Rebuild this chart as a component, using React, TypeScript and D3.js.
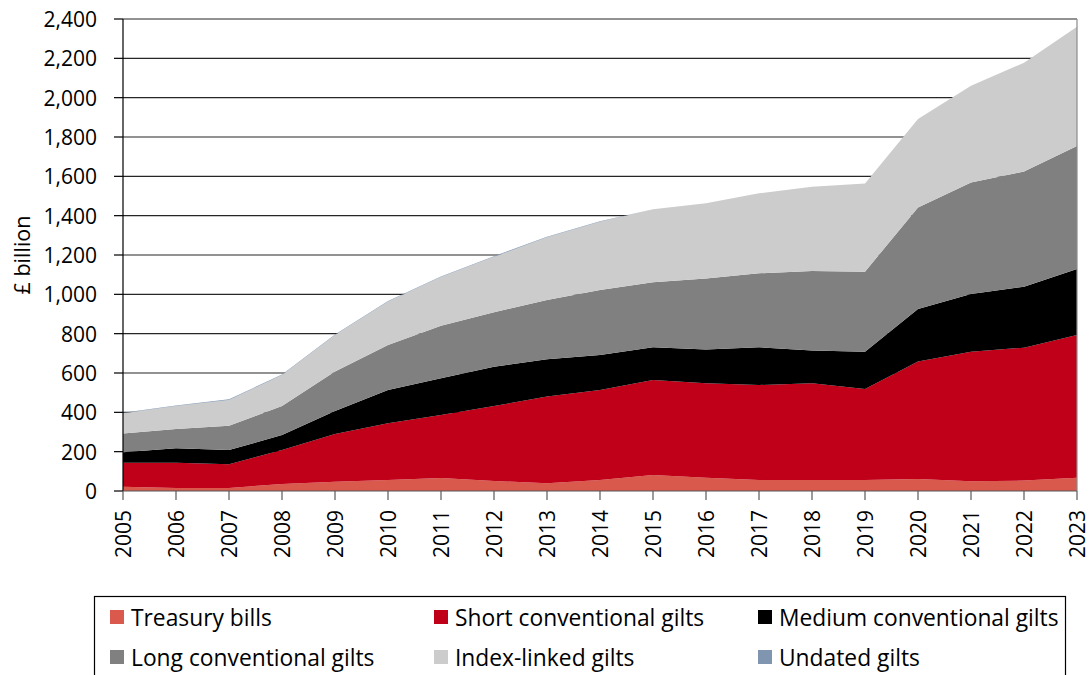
import React from "react";
import * as d3 from "d3";

const years = [2005, 2006, 2007, 2008, 2009, 2010, 2011, 2012, 2013, 2014, 2015, 2016, 2017, 2018, 2019, 2020, 2021, 2022, 2023];
const treasuryBills = [22, 15, 15, 36, 47, 56, 66, 51, 39, 56, 81, 68, 56, 56, 56, 61, 49, 53, 68];
const shortGilts = [122, 129, 121, 172, 243, 288, 320, 381, 441, 458, 483, 480, 483, 492, 463, 597, 659, 676, 725];
const mediumGilts = [53, 73, 72, 77, 117, 170, 187, 200, 190, 178, 167, 172, 192, 166, 189, 267, 294, 310, 336];
const longGilts = [96, 98, 124, 147, 200, 228, 267, 277, 301, 330, 330, 361, 376, 405, 407, 517, 567, 585, 625];
const indexLinked = [102, 117, 131, 158, 186, 221, 248, 282, 319, 347, 371, 382, 407, 428, 449, 449, 492, 554, 607];
const undated = [3, 3, 3, 3, 3, 3, 3, 3, 3, 3, 0, 0, 0, 0, 0, 0, 0, 0, 0];
const yTicks = [0, 200, 400, 600, 800, 1000, 1200, 1400, 1600, 1800, 2000, 2200, 2400];

const seriesNames = ["Treasury bills", "Short conventional gilts", "Medium conventional gilts", "Long conventional gilts", "Index-linked gilts", "Undated gilts"];
const seriesKeys = ["tb", "short", "medium", "long", "index", "undated"];
const seriesColors = ["#d9594c", "#c00018", "#000000", "#808080", "#cccccc", "#8096b0"];

const legendOrder = [0, 1, 2, 3, 4, 5];

export default function App() {
  const W = 1092, H = 675;
  const left = 123, right = 1077, top = 19, bottom = 491;
  const font = "'Open Sans', 'Noto Sans', sans-serif";

  const rows = years.map((y, i) => ({
    year: y,
    tb: treasuryBills[i],
    short: shortGilts[i],
    medium: mediumGilts[i],
    long: longGilts[i],
    index: indexLinked[i],
    undated: undated[i],
  }));

  const x = d3.scaleLinear().domain([2005, 2023]).range([left, right]);
  const y = d3.scaleLinear().domain([0, 2400]).range([bottom, top]);
  const stack = d3.stack<any>().keys(seriesKeys);
  const stacked = stack(rows);
  const area = d3
    .area<any>()
    .x((d) => x(d.data.year))
    .y0((d) => y(d[0]))
    .y1((d) => y(d[1]));

  const fmt = d3.format(",");

  const legendCols = [110, 434, 758];
  const legendRows = [617, 657];

  return (
    <div style={{ position: "absolute", left: 0, top: 0 }}>
      <svg width={W} height={H} style={{ display: "block", background: "#fff" }}>
        {yTicks.slice(1).map((t) => (
          <line key={"g" + t} x1={left} x2={right} y1={y(t)} y2={y(t)} stroke="#262626" strokeWidth={1.2} />
        ))}
        {stacked.map((s, i) => (
          <path key={s.key} d={area(s) || ""} fill={seriesColors[i]} />
        ))}
        <line x1={right} x2={right} y1={top} y2={bottom} stroke="#8a8a8a" strokeWidth={1.2} />
        <line x1={left} x2={left} y1={top} y2={bottom} stroke="#000" strokeWidth={1.2} />
        {yTicks.map((t) => (
          <g key={"yt" + t}>
            <line x1={left - 9} x2={left} y1={y(t)} y2={y(t)} stroke="#000" strokeWidth={1.2} />
            <text x={97} y={y(t)} textAnchor="end" dominantBaseline="central" fontFamily={font} fontSize={21} fill="#000">
              {fmt(t)}
            </text>
          </g>
        ))}
        <line x1={left} x2={right} y1={bottom} y2={bottom} stroke="#595959" strokeWidth={1.2} />
        {years.map((yr) => (
          <g key={"xt" + yr}>
            <line x1={x(yr)} x2={x(yr)} y1={bottom} y2={bottom + 9} stroke="#595959" strokeWidth={1.2} />
            <text
              transform={`translate(${x(yr)},${510}) rotate(-90)`}
              textAnchor="end"
              dominantBaseline="central"
              fontFamily={font}
              fontSize={21}
              fill="#000"
            >
              {yr}
            </text>
          </g>
        ))}
        <text
          transform={`translate(21,${(top + bottom) / 2}) rotate(-90)`}
          textAnchor="middle"
          dominantBaseline="central"
          fontFamily={font}
          fontSize={21.5}
          fill="#000"
        >
          £ billion
        </text>
        <rect x={94.5} y={596.5} width={971} height={100} fill="#fff" stroke="#000" strokeWidth={1.2} />
        {legendOrder.map((si, k) => {
          const cx = legendCols[k % 3];
          const cy = legendRows[Math.floor(k / 3)];
          return (
            <g key={"lg" + si}>
              <rect x={cx} y={cy - 7} width={14} height={14} fill={seriesColors[si]} />
              <text x={cx + 21} y={cy} dominantBaseline="central" fontFamily={font} fontSize={22.8} fill="#000">
                {seriesNames[si]}
              </text>
            </g>
          );
        })}
      </svg>
    </div>
  );
}
